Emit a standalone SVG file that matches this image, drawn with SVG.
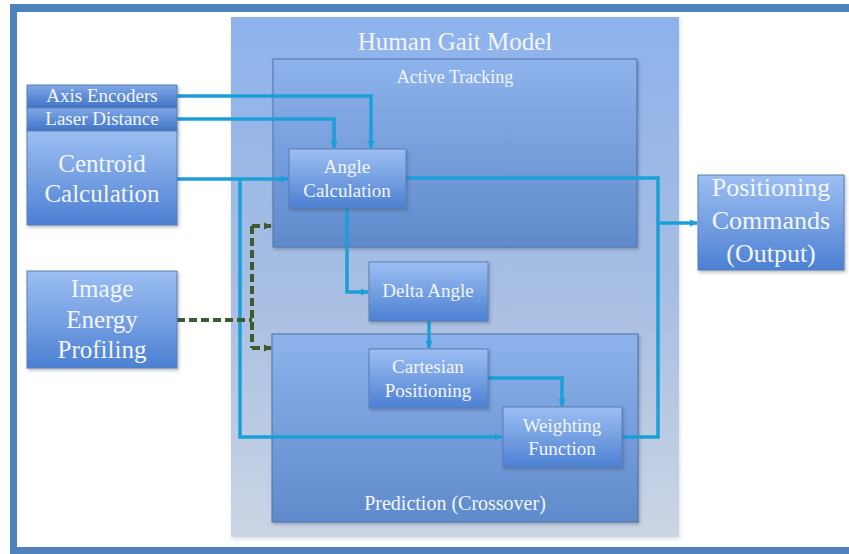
<svg xmlns="http://www.w3.org/2000/svg" width="849" height="554" viewBox="0 0 849 554">
  <defs>
    <linearGradient id="gModel" x1="0" y1="0" x2="0" y2="1">
      <stop offset="0" stop-color="#8db2ec"/>
      <stop offset="0.55" stop-color="#a9bfe2"/>
      <stop offset="1" stop-color="#cbd5e4"/>
    </linearGradient>
    <linearGradient id="gPanel" x1="0" y1="0" x2="0" y2="1">
      <stop offset="0" stop-color="#8eb3ec"/>
      <stop offset="1" stop-color="#5f8acb"/>
    </linearGradient>
    <linearGradient id="gNode" x1="0" y1="0" x2="0" y2="1">
      <stop offset="0" stop-color="#9cbff3"/>
      <stop offset="0.5" stop-color="#76a0e2"/>
      <stop offset="1" stop-color="#4b80d3"/>
    </linearGradient>
    <linearGradient id="gBand" x1="0" y1="0" x2="0" y2="1">
      <stop offset="0" stop-color="#80a8e6"/>
      <stop offset="1" stop-color="#3f73c6"/>
    </linearGradient>
    <filter id="shadow" x="-10%" y="-10%" width="125%" height="130%">
      <feDropShadow dx="1.5" dy="2" stdDeviation="1.5" flood-color="#30405a" flood-opacity="0.35"/>
    </filter>
    <filter id="softShadow" x="-5%" y="-5%" width="110%" height="110%">
      <feDropShadow dx="1" dy="2" stdDeviation="2" flood-color="#6a7890" flood-opacity="0.25"/>
    </filter>
    <marker id="arrow" viewBox="0 0 8 8" refX="7" refY="4" markerWidth="8" markerHeight="8" markerUnits="userSpaceOnUse" orient="auto">
      <path d="M0,0.5 L8,4 L0,7.5 z" fill="#1c9fd8"/>
    </marker>
    <marker id="arrowDash" viewBox="0 0 8 8" refX="7" refY="4" markerWidth="8" markerHeight="8" markerUnits="userSpaceOnUse" orient="auto">
      <path d="M0,0.5 L8,4 L0,7.5 z" fill="#3f5a2c"/>
    </marker>
    <style>
      .node { fill: url(#gNode); stroke: #5b7fb6; stroke-width: 1; filter: url(#shadow); }
      .panel { fill: url(#gPanel); stroke: #4d72aa; stroke-width: 1; filter: url(#shadow); }
      .t { font-family: "Liberation Serif", "Times New Roman", serif; fill: #f2f6fc; text-anchor: middle; }
      .n19 { font-size: 19px; }
      .n25 { font-size: 25px; }
      .link { fill: none; stroke: #1c9fd8; stroke-width: 3.5; stroke-linejoin: miter; }
      .dash { fill: none; stroke: #3f5a2c; stroke-width: 4; stroke-dasharray: 8 4; }
    </style>
  </defs>

  <!-- page background and frame -->
  <rect x="0" y="0" width="849" height="554" fill="#ffffff"/>
  <rect x="10" y="4" width="839" height="8" fill="#4f81bd"/>
  <rect x="10" y="4" width="7" height="550" fill="#4f81bd"/>
  <rect x="10" y="547" width="839" height="7" fill="#4f81bd"/>

  <!-- container: Human Gait Model -->
  <g id="human-gait-model">
    <rect x="231" y="17" width="448" height="520" fill="url(#gModel)" filter="url(#softShadow)"/>
    <text class="t" x="455" y="50" font-size="25">Human Gait Model</text>
  </g>

  <g id="active-tracking">
    <rect class="panel" x="273" y="59" width="364" height="188"/>
    <text class="t" x="455" y="83" font-size="18">Active  Tracking</text>
  </g>

  <g id="prediction">
    <rect class="panel" x="272" y="334" width="366" height="188"/>
    <text class="t" x="455" y="510" font-size="20">Prediction (Crossover)</text>
  </g>

  <!-- connectors -->
  <g id="connectors">
    <path class="link" d="M177,96 H371 V148" marker-end="url(#arrow)"/>
    <path class="link" d="M177,119 H334 V148" marker-end="url(#arrow)"/>
    <path class="link" d="M177,179 H288" marker-end="url(#arrow)"/>
    <path class="link" d="M240,179 V437 H502" marker-end="url(#arrow)"/>
    <path class="link" d="M347,208 V292 H368" marker-end="url(#arrow)"/>
    <path class="link" d="M429,321 V348" marker-end="url(#arrow)"/>
    <path class="link" d="M488,378 H562 V406" marker-end="url(#arrow)"/>
    <path class="link" d="M406,178 H658 V437 H622"/>
    <path class="link" d="M658,223 H697" marker-end="url(#arrow)"/>
    <path class="dash" d="M177,320 H252"/>
    <path class="dash" d="M252,226 V348"/>
    <path class="dash" d="M252,226 H271" marker-end="url(#arrowDash)"/>
    <path class="dash" d="M252,348 H271" marker-end="url(#arrowDash)"/>
  </g>

  <!-- input sensors stack -->
  <g id="axis-encoders">
    <rect x="27" y="85" width="150" height="23" fill="url(#gBand)" stroke="#5b7fb6" stroke-width="1" filter="url(#shadow)"/>
    <text class="t n19" x="102" y="102">Axis Encoders</text>
  </g>
  <g id="laser-distance">
    <rect x="27" y="108" width="150" height="23" fill="url(#gBand)" stroke="#5b7fb6" stroke-width="1" filter="url(#shadow)"/>
    <text class="t n19" x="102" y="125">Laser Distance</text>
  </g>
  <g id="centroid-calculation">
    <rect class="node" x="27" y="131" width="150" height="94"/>
    <text class="t n25" x="102" y="172">Centroid</text>
    <text class="t n25" x="102" y="202">Calculation</text>
  </g>

  <g id="image-energy-profiling">
    <rect class="node" x="27" y="271" width="150" height="97"/>
    <text class="t n25" x="102" y="297">Image</text>
    <text class="t n25" x="102" y="328">Energy</text>
    <text class="t n25" x="102" y="358">Profiling</text>
  </g>

  <!-- processing blocks -->
  <g id="angle-calculation">
    <rect class="node" x="289" y="149" width="117" height="59"/>
    <text class="t n19" x="347" y="173">Angle</text>
    <text class="t n19" x="347" y="197">Calculation</text>
  </g>

  <g id="delta-angle">
    <rect class="node" x="369" y="262" width="119" height="59"/>
    <text class="t n19" x="428" y="297">Delta  Angle</text>
  </g>

  <g id="cartesian-positioning">
    <rect class="node" x="369" y="349" width="119" height="59"/>
    <text class="t n19" x="428" y="373">Cartesian</text>
    <text class="t n19" x="428" y="397">Positioning</text>
  </g>

  <g id="weighting-function">
    <rect class="node" x="503" y="407" width="119" height="60"/>
    <text class="t n19" x="562" y="432">Weighting</text>
    <text class="t n19" x="562" y="455">Function</text>
  </g>

  <!-- output -->
  <g id="positioning-commands">
    <rect class="node" x="698" y="175" width="146" height="95"/>
    <text class="t" x="771" y="196" font-size="26">Positioning</text>
    <text class="t" x="771" y="229" font-size="26">Commands</text>
    <text class="t" x="771" y="262" font-size="26">(Output)</text>
  </g>
</svg>
